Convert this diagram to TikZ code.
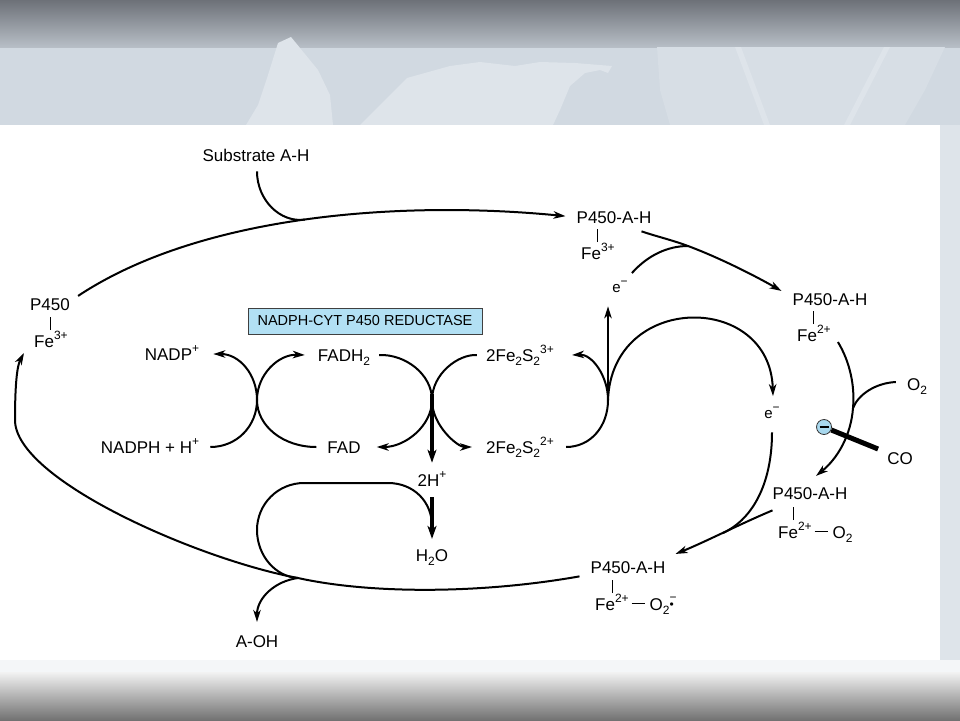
\documentclass[tikz,border=0pt]{standalone}
\usepackage{fontspec}
\setmainfont{Liberation Sans}
\usetikzlibrary{arrows.meta,calc}
\definecolor{slidetop}{HTML}{6D7178}
\definecolor{slidebar}{HTML}{B7BEC6}
\definecolor{slidebg}{HTML}{D1D9E1}
\definecolor{leafcol}{HTML}{DEE4EA}
\definecolor{leafdim}{HTML}{D7DEE5}
\definecolor{slidefoot}{HTML}{727272}
\definecolor{reductase}{HTML}{B2E0F4}
\definecolor{inhibit}{HTML}{A8D8EE}
\newcommand\chup[1]{\raisebox{0.42em}{\fontsize{12}{12}\selectfont #1}}
\newcommand\chdn[1]{\raisebox{-0.28em}{\fontsize{12}{12}\selectfont #1}}
\newcommand\bondline{\hspace{3pt}\rule[6.5pt]{13pt}{0.9pt}\hspace{5pt}}
\newcommand\superox{\rlap{\raisebox{0.5em}{\fontsize{12}{12}\selectfont −}}\raisebox{0.1em}{\fontsize{12}{12}\selectfont •}}
\begin{document}
\begin{tikzpicture}[x=1pt,y=-1pt,
  lbl/.style={font=\fontsize{17}{20}\selectfont, inner sep=1pt, anchor=base},
  elec/.style={font=\fontsize{15}{18}\selectfont, inner sep=1pt, anchor=base},
  flow/.style={line width=2pt},
  arr/.style={flow, -{Stealth[length=12pt,width=7.5pt,inset=3.5pt]}},
  bigarr/.style={line width=3.6pt, -{Stealth[length=13pt,width=9pt,inset=3.5pt]}},
  bond/.style={line width=0.9pt}]
\useasboundingbox (0,0) rectangle (960,720);
\fill[slidebg] (0,0) rectangle (960,720);
\shade[top color=slidetop, bottom color=slidebar] (0,0) rectangle (960,47);
\fill[leafcol] (291,37) -- (278,43) -- (268,75) -- (258,105) -- (246,125) -- (333,125) -- (330,95) -- (318,70) -- cycle;
\fill[leafcol] (360,125) -- (385,100) -- (407,78) -- (450,66) -- (480,62) -- (515,66) -- (540,62) -- (575,63) -- (612,66) -- (608,73) -- (600,70) -- (585,73) -- (570,86) -- (560,110) -- (553,125) -- cycle;
\fill[leafdim] (657,47) -- (945,47) -- (925,90) -- (905,125) -- (670,125) -- (660,90) -- cycle;
\fill[leafcol] (735,47) -- (741,47) -- (770,125) -- (764,125) -- cycle;
\fill[leafcol] (884,47) -- (890,47) -- (850,125) -- (844,125) -- cycle;
\fill[leafcol] (940,125) rectangle (960,660);
\fill[white] (0,125) rectangle (940,660);
\fill[slidebg!25!white] (0,660) rectangle (960,672);
\shade[top color=white!95!black, middle color=white!76!black, bottom color=slidefoot] (0,672) rectangle (960,720);

\node[lbl] (sub) at (256,161) {Substrate A-H};
\node[lbl] (p0) at (50,310) {P450};
\node[lbl, anchor=base west] (p0fe) at (33,347) {Fe\chup{3+}};
\node[lbl] (p1) at (614,223) {P450-A-H};
\node[lbl, anchor=base west] (p1fe) at (580,259) {Fe\chup{3+}};
\node[lbl] (p2) at (830,305) {P450-A-H};
\node[lbl, anchor=base west] (p2fe) at (796,341) {Fe\chup{2+}};
\node[lbl] (p3) at (810,499) {P450-A-H};
\node[lbl, anchor=base west] (p3fe) at (777,538) {Fe\chup{2+}\bondline O\chdn{2}};
\node[lbl] (p4) at (628,573) {P450-A-H};
\node[lbl, anchor=base west] (p4fe) at (594,610) {Fe\chup{2+}\bondline O\chdn{2}\superox};
\node[draw=black!75, fill=reductase, line width=0.8pt, inner sep=0, minimum width=234pt, minimum height=26pt, font=\fontsize{14.5}{16}\selectfont] (red) at (365,321) {NADPH-CYT P450 REDUCTASE};
\node[lbl] (nadp) at (172,360) {NADP\chup{+}};
\node[lbl] (nadph) at (150,453) {NADPH + H\chup{+}};
\node[lbl] (fadh) at (344,361) {FADH\chdn{2}};
\node[lbl] (fad) at (344,453) {FAD};
\node[lbl] (fes3) at (520,361) {2Fe\chdn{2}S\chdn{2}\chup{3+}};
\node[lbl] (fes2) at (520,453) {2Fe\chdn{2}S\chdn{2}\chup{2+}};
\node[lbl] (hplus) at (432,486) {2H\chup{+}};
\node[lbl] (water) at (432,561) {H\chdn{2}O};
\node[lbl] (aoh) at (257,647) {A-OH};
\node[elec] (ea) at (620,292) {e\chup{−}};
\node[elec] (eb) at (772,418) {e\chup{−}};
\node[lbl] (otwo) at (917,390) {O\chdn{2}};
\node[lbl] (co) at (900,464) {CO};

\coordinate (jS) at (305,219.6);
\coordinate (jE1) at (688,246);
\coordinate (jR) at (608,400);
\coordinate (jM) at (432,400);
\coordinate (jL) at (257,400);
\coordinate (jO) at (853,408);
\coordinate (jE2) at (723,533);
\coordinate (jA) at (298,578);
\coordinate (jW) at (15,420);

\draw[bond] ($(p0fe.base west)+(17,-17)$) -- ++(0,-13);
\draw[bond] ($(p1fe.base west)+(17,-17)$) -- ++(0,-13);
\draw[bond] ($(p2fe.base west)+(17,-17)$) -- ++(0,-13);
\draw[bond] ($(p3fe.base west)+(16,-18)$) -- ++(0,-13);
\draw[bond] ($(p4fe.base west)+(18,-17)$) -- ++(0,-13);

\draw[arr] ([shift={(7,-1)}]p0.north east) .. controls (200,215) and (400,200) .. ([shift={(-10,-1)}]p1.west);
\draw[flow] ([shift={(1,9)}]sub.south) .. controls (257,200) and (280,223) .. (jS);
\draw[arr] ([shift={(-11,7)}]p1.south east) .. controls (655,236) and (672,240) .. (jE1) .. controls (715,256) and (750,273) .. ([shift={(-10,-1)}]p2.north west);
\draw[flow] ([shift={(3,-7)}]ea.north east) .. controls (648,255) and (668,246) .. (jE1);
\draw[arr] (jR) -- ($(jR |- ea.south)+(0,13)$);
\draw[arr] (jR) .. controls (612,292) and (770,292) .. ([shift={(1,-10)}]eb.north);
\draw[arr] ([shift={(11,-6)}]fes2.base east) .. controls (591,447) and (608,426) .. (jR) .. controls (608,376) and (592,354) .. ([shift={(17,-6)}]fes3.base east);
\draw[arr] ([shift={(8,-6)}]fadh.base east) .. controls (405,354) and (432,374) .. (jM) .. controls (432,426) and (405,447) .. ([shift={(15,-6)}]fad.base east);
\draw[arr] ([shift={(-8,-6)}]fes3.base west) .. controls (458,354) and (432,374) .. (jM) .. controls (432,426) and (458,447) .. ([shift={(-13,-6)}]fes2.base west);
\draw[arr] ([shift={(10,-6)}]nadph.base east) .. controls (237,447) and (257,426) .. (jL) .. controls (257,374) and (239,354) .. ([shift={(13,-6)}]nadp.base east);
\draw[arr] ([shift={(-10,-6)}]fad.base west) .. controls (283,447) and (257,426) .. (jL) .. controls (257,374) and (279,354) .. ([shift={(-12,-6)}]fadh.base west);
\draw[bigarr] ($(jM)+(0,-6)$) -- ($(hplus.north)+(0,-8)$);
\draw[bigarr] ([yshift=-10pt]hplus.south) -- ([yshift=9pt]water.north);
\draw[flow] (jA) .. controls (276,577) and (257,556) .. (257,530) .. controls (257,504) and (278,483) .. (304,483) -- (388,483) .. controls (414,483) and (432,502) .. (432,526);
\draw[arr] (jA) .. controls (275,581) and (257,598) .. ([yshift=12pt]aoh.north);
\draw[arr] ([shift={(-10,2)}]p4.south west) .. controls (480,594) and (370,594) .. (jA) .. controls (200,560) and (15,480) .. (jW) .. controls (15,385) and (17,366) .. ([shift={(-9,6)}]p0fe.base west);
\draw[arr] ([shift={(6,1)}]p2fe.base east) .. controls (850,362) and (855,386) .. (jO) .. controls (851,435) and (838,458) .. ([shift={(6,-10)}]p3.north);
\draw[flow] ([shift={(-10,-8)}]otwo.base west) .. controls (875,383) and (858,395) .. (jO);
\node[circle, draw=black!80, fill=inhibit, line width=0.8pt, minimum size=15pt, inner sep=0] (inh) at (824,427) {};
\draw[line width=1.3pt] ([xshift=-4.5pt]inh.center) -- ([xshift=4.5pt]inh.center);
\draw[line width=5pt] (inh) -- ([shift={(-8,-15)}]co.base west);
\draw[arr] ([shift={(1,10)}]p3.south west) .. controls (740,524) and (705,542) .. ([shift={(9,-6)}]p4.north east);
\draw[flow] ([yshift=-13pt]eb.south) .. controls (772,480) and (755,518) .. (jE2);
\end{tikzpicture}
\end{document}
